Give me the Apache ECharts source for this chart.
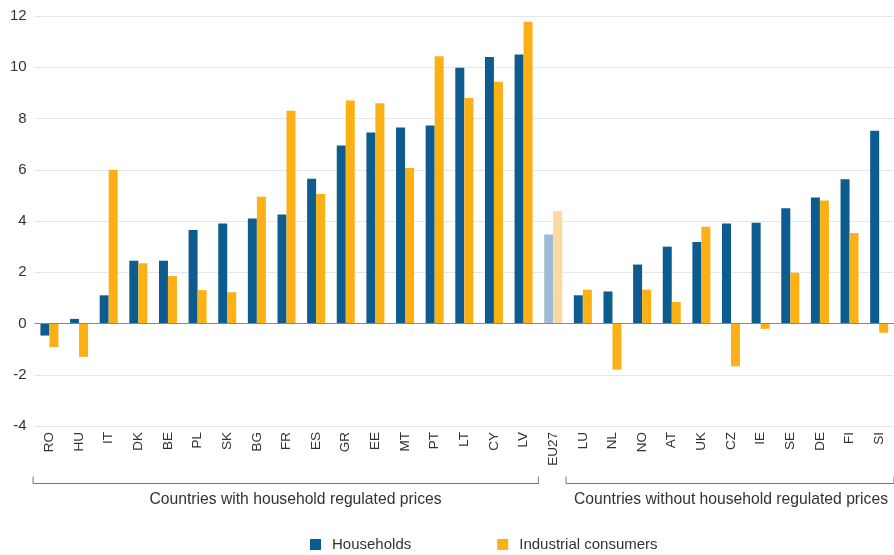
<!DOCTYPE html>
<html>
<head>
<meta charset="utf-8">
<script src="https://cdn.jsdelivr.net/npm/echarts@6/dist/echarts.min.js"></script>
<style>
html,body{margin:0;padding:0;background:#fff;}
#chart{width:894px;height:555px;}
</style>
</head>
<body>
<div id="chart"></div>
<script>
const categories = ['RO','HU','IT','DK','BE','PL','SK','BG','FR','ES','GR','EE','MT','PT','LT','CY','LV','EU27','LU','NL','NO','AT','UK','CZ','IE','SE','DE','FI','SI'];
const households = [-0.47,0.18,1.1,2.45,2.45,3.65,3.9,4.1,4.25,5.65,6.95,7.45,7.65,7.73,9.98,10.4,10.5,3.47,1.1,1.25,2.3,3.0,3.18,3.9,3.93,4.5,4.92,5.63,7.52];
const industrial = [-0.92,-1.3,6.0,2.35,1.85,1.3,1.22,4.95,8.3,5.05,8.7,8.6,6.07,10.43,8.8,9.43,11.78,4.38,1.32,-1.8,1.32,0.84,3.78,-1.67,-0.21,1.98,4.8,3.53,-0.36];
const yTicks = {min:-4, max:12, interval:2};
const groups = [
  {label:'Countries with household regulated prices', from:'RO', to:'LV'},
  {label:'Countries without household regulated prices', from:'LU', to:'SI'}
];
const highlightCategory = 'EU27';

const COL_H = '#0d5c8f', COL_I = '#fbb116';
const COL_H_L = '#9fbcd6', COL_I_L = '#fbd9a0';

function styled(vals, light){
  return vals.map((v,i)=> categories[i]===highlightCategory ? {value:v, itemStyle:{color:light}} : v);
}

const chart = echarts.init(document.getElementById('chart'), null, {renderer:'canvas'});
const FONT = '"Liberation Sans", Arial, sans-serif';
chart.setOption({
  animation:false,
  grid:{left:34.6, right:-6, top:16, bottom:129, containLabel:false},
  legend:{
    data:['Households','Industrial consumers'],
    left:310, top:537, itemWidth:11, itemHeight:11, icon:'rect', itemGap:86,
    padding:0,
    textStyle:{fontFamily:FONT, fontSize:15, color:'#333', padding:[0,0,0,6]}
  },
  xAxis:{
    type:'category', data:categories,
    axisLine:{show:false}, axisTick:{show:false},
    axisLabel:{rotate:90, fontFamily:FONT, fontSize:13.5, color:'#333', margin:6, interval:0}
  },
  yAxis:{
    type:'value', min:yTicks.min, max:yTicks.max, interval:yTicks.interval,
    axisLine:{show:false}, axisTick:{show:false},
    axisLabel:{fontFamily:FONT, fontSize:15, color:'#333', margin:8},
    splitLine:{lineStyle:{color:'#e6e6e6', width:1}}
  },
  series:[
    {name:'Households', type:'bar', data:styled(households, COL_H_L), barWidth:9, barGap:'0%',
      itemStyle:{color:COL_H},
      markLine:{silent:true, symbol:'none', label:{show:false}, lineStyle:{color:'#888', type:'solid', width:1}, data:[{yAxis:0}]},
      z:3},
    {name:'Industrial consumers', type:'bar', data:styled(industrial, COL_I_L), barWidth:9,
      itemStyle:{color:COL_I}, z:3}
  ]
});

// group brackets under the axis, positioned from the category scale
const band = chart.convertToPixel({xAxisIndex:0}, categories[1]) - chart.convertToPixel({xAxisIndex:0}, categories[0]);
const yLine = 483.5, yTick = 476.5, yText = 500;
const graphics = [];
groups.forEach((g,gi)=>{
  let x0 = chart.convertToPixel({xAxisIndex:0}, g.from) - band/2;
  let x1 = chart.convertToPixel({xAxisIndex:0}, g.to) + band/2;
  let tx = (x0+x1)/2;
  if (gi===0){ x0 -= 1.5; tx += 9; } else { x0 -= 2; }
  graphics.push({type:'polyline', shape:{points:[[x0,yTick],[x0,yLine],[x1,yLine],[x1,yTick]]},
    style:{stroke:'#777', lineWidth:1, fill:null}, silent:true});
  graphics.push({type:'text', x:tx, y:yText,
    style:{text:g.label, fontFamily:FONT, fontSize:15.7, fill:'#333', align:'center', verticalAlign:'middle'}});
});
chart.setOption({graphic:graphics});
</script>
</body>
</html>
